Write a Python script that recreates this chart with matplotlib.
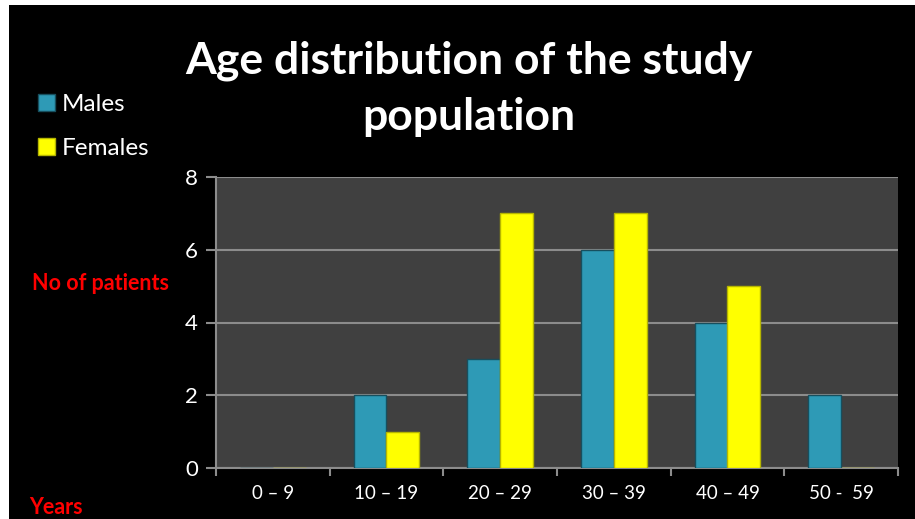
import matplotlib.pyplot as plt
import numpy as np
from matplotlib.patches import Rectangle

# data
age_groups = ["0 – 9", "10 – 19", "20 – 29", "30 – 39", "40 – 49", "50 -  59"]
males = [0, 2, 3, 6, 4, 2]
females = [0, 1, 7, 7, 5, 0]

plt.rcParams['font.family'] = ['Lato', 'DejaVu Sans']

fig = plt.figure(figsize=(9.15, 5.19), dpi=100, facecolor='white')
# black slide background (small white strip left/top as in the screenshot)
fig.patches.append(Rectangle((9 / 915, 0), 1, 1 - 5 / 519, transform=fig.transFigure,
                             facecolor='black', edgecolor='none', zorder=-10))

ax = fig.add_axes([216 / 915, 51 / 519, 682 / 915, 291 / 519])
ax.set_facecolor('#404040')

x = np.arange(len(age_groups))
w = 0.29
ax.bar(x - w / 2, males, w, color='#2E9AB6', edgecolor='#174F5E', linewidth=1.0,
       label='Males', zorder=3)
ax.bar(x + w / 2, females, w, color='#FFFF00', edgecolor='#B5B500', linewidth=1.0,
       label='Females', zorder=3)

ax.set_xlim(-0.5, len(age_groups) - 0.5)
ax.set_ylim(0, 8)
ax.set_yticks([0, 2, 4, 6, 8])
ax.yaxis.grid(True, color='#8C8C8C', linewidth=1.5, zorder=1)

ax.set_xticks(x)
ax.set_xticklabels(age_groups, color='white', fontsize=13.5)
ax.set_xticks(np.arange(-0.5, len(age_groups)), minor=True)
ax.tick_params(axis='x', which='major', length=0, pad=12)
ax.tick_params(axis='x', which='minor', length=6, color='#8C8C8C', width=1.5)
ax.tick_params(axis='y', colors='#8C8C8C', length=7, width=1.5, labelsize=16,
               labelcolor='white', pad=6)

for side in ['top', 'right']:
    ax.spines[side].set_visible(False)
for side in ['left', 'bottom']:
    ax.spines[side].set_color('#8C8C8C')
    ax.spines[side].set_linewidth(1.5)

fig.text(0.512, 0.882, "Age distribution of the study", ha='center', va='center',
         color='white', fontsize=32, fontweight='bold')
fig.text(0.512, 0.775, "population", ha='center', va='center',
         color='white', fontsize=32, fontweight='bold')

fig.text(32 / 915, 1 - 283 / 519, "No of patients", ha='left', va='center',
         color='red', fontsize=15.5, fontweight='bold')
fig.text(29 / 915, 1 - 507 / 519, "Years", ha='left', va='center',
         color='red', fontsize=15.5, fontweight='bold')

fig.legend(loc='upper left', bbox_to_anchor=(16 / 915, 1 - 72 / 519), frameon=False,
           fontsize=17.5, labelcolor='white', handlelength=0.7, handleheight=0.7,
           handletextpad=0.3, labelspacing=0.95)

plt.savefig("out.png", dpi=100, facecolor=fig.get_facecolor())
